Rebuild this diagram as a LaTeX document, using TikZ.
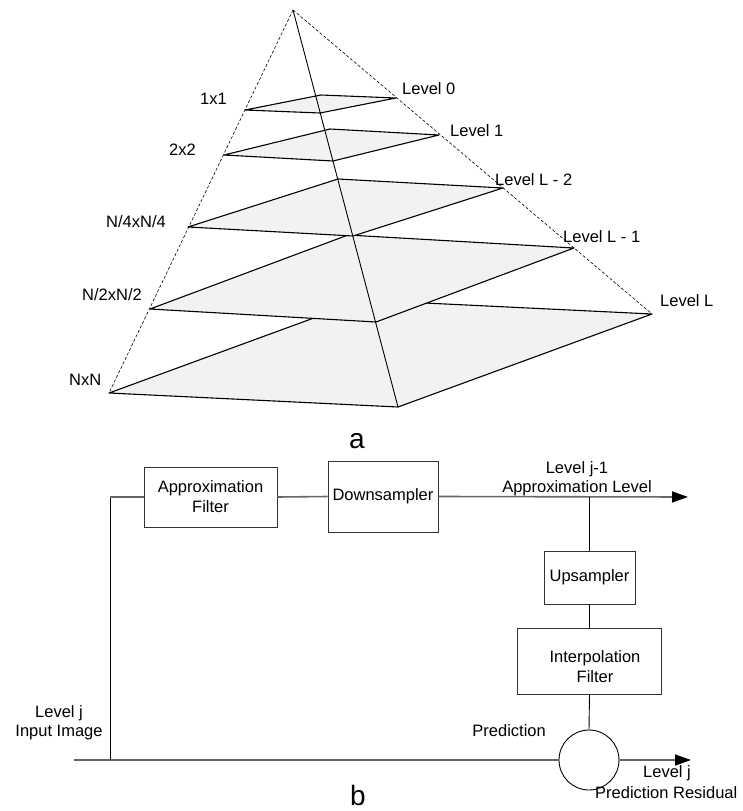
\documentclass[tikz,border=0pt]{standalone}
\usepackage{fontspec}
\setmainfont{Liberation Sans}
\usetikzlibrary{arrows.meta}
\begin{document}
\begin{tikzpicture}[x=1pt,y=-1pt,
  every node/.style={font=\fontsize{16.5}{20}\selectfont, inner sep=0pt},
  lbl/.style={anchor=base west},
  biglbl/.style={anchor=base, font=\fontsize{28}{30}\selectfont},
  plane/.style={draw=black, line width=1.1pt, fill=black!5, line join=round},
  hull/.style={draw=black, line width=0.6pt, dash pattern=on 3pt off 2pt},
  axis/.style={draw=black, line width=0.9pt},
  box/.style={draw=black!80, line width=0.9pt, align=center},
  flow/.style={draw=black!60, line width=1.6pt},
  vflow/.style={draw=black, line width=0.9pt},
  tip/.style={-{Triangle[length=16pt,width=11pt,color=black]}}
]
\useasboundingbox (0,0) rectangle (743,811);

% ---------- pyramid ----------
\coordinate (apex) at (293,10);
\coordinate (A0l) at (245,110); \coordinate (A0b) at (321,95);  \coordinate (A0r) at (396,98);  \coordinate (A0f) at (320,113);
\coordinate (A1l) at (224,155); \coordinate (A1b) at (330,129); \coordinate (A1r) at (439,135); \coordinate (A1f) at (333,161);
\coordinate (A2l) at (188,227); \coordinate (A2b) at (338,179); \coordinate (A2r) at (503,188); \coordinate (A2f) at (353,236);
\coordinate (A3l) at (150,309); \coordinate (A3b) at (348,235); \coordinate (A3r) at (574,248); \coordinate (A3f) at (376,322);
\coordinate (A4l) at (109,393); \coordinate (A4b) at (363,300); \coordinate (A4r) at (652,314); \coordinate (A4f) at (398,407);

\draw[plane] (A4l) -- (A4b) -- (A4r) -- (A4f) -- cycle;
\draw[plane] (A3l) -- (A3b) -- (A3r) -- (A3f) -- cycle;
\draw[plane] (A2l) -- (A2b) -- (A2r) -- (A2f) -- cycle;
\draw[plane] (A1l) -- (A1b) -- (A1r) -- (A1f) -- cycle;
\draw[plane] (A0l) -- (A0b) -- (A0r) -- (A0f) -- cycle;

\draw[axis] (apex) -- (A4f);
\draw[hull] (apex) -- (A4l);
\draw[hull] (apex) -- (A4r);

\node[lbl] (s0) at (200,104) {1x1};
\node[lbl] (s1) at (169,155) {2x2};
\node[lbl] (s2) at (106,227) {N/4xN/4};
\node[lbl] (s3) at (82,300) {N/2xN/2};
\node[lbl] (s4) at (69,385) {NxN};
\node[lbl] (l0) at (402,94) {Level 0};
\node[lbl] (l1) at (450,136) {Level 1};
\node[lbl] (l2) at (495,185) {Level L - 2};
\node[lbl] (l3) at (563,242) {Level L - 1};
\node[lbl] (l4) at (660,306) {Level L};
\node[biglbl] (capa) at (357,448) {a};

% ---------- block diagram ----------
\node[box, minimum width=133pt, minimum height=60pt] (af) at (210.5,497) {Approximation\\Filter};
\node[box, minimum width=110pt, minimum height=71pt] (ds) at (383,496.5) {Downsampler};
\node[box, minimum width=91pt, minimum height=53pt] (up) at (589.5,577.5) {Upsampler};
\node[box, minimum width=144pt, minimum height=66pt,
      label={[align=center,xshift=5.5pt,yshift=-6pt]center:Interpolation\\Filter}] (ip) at (589.5,661) {};
\node[circle, draw=black, line width=0.9pt, minimum size=60pt] (sum) at (589,760) {};

\coordinate (jl) at (110,497);
\coordinate (jb) at (110,760);
\coordinate (in0) at (74,760);
\coordinate (tap) at (589.5,497);
\coordinate (out1) at (688,497);
\coordinate (out2) at (691,760);

\draw[flow] (in0) -- (sum.west);
\draw[vflow] (jb) -- (jl);
\draw[flow] (jl) -- (af.west);
\draw[flow] (af.east) -- (ds.west);
\draw[flow,tip] (ds.east) -- (out1);
\draw[vflow] (tap) -- (up.north);
\draw[vflow] (up.south) -- (ip.north);
\draw[vflow] (ip.south) -- (sum.north);
\draw[flow,tip] (sum.east) -- (out2);

\node[anchor=base] (t1) at (577,473) {Level j-1};
\node[anchor=base] (t2) at (577,492) {Approximation Level};
\node[anchor=base] (t3) at (59,717) {Level j};
\node[anchor=base] (t4) at (59,736) {Input Image};
\node[anchor=base east] (t5) at (546,736) {Prediction};
\node[lbl] (t6) at (643,777) {Level j};
\node[lbl] (t7) at (595,798) {Prediction Residual};
\node[biglbl] (capb) at (358,805) {b};
\end{tikzpicture}
\end{document}
